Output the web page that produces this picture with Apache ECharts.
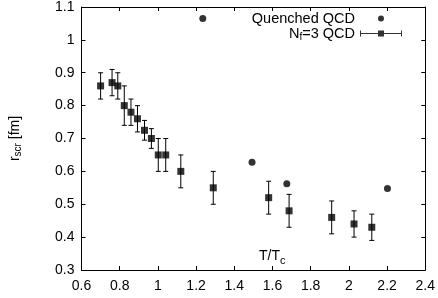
<!DOCTYPE html>
<html><head><meta charset="utf-8">
<script src="https://cdn.jsdelivr.net/npm/echarts@6/dist/echarts.min.js"></script>
<style>html,body{margin:0;padding:0;background:#fff}#c{width:438px;height:298px}</style>
</head><body><div id="c"></div>
<script>
const nfT = [0.70,0.76,0.79,0.824,0.859,0.893,0.93,0.966,1.002,1.041,1.12,1.29,1.58,1.687,1.91,2.027,2.12];
const nfR = [0.86,0.87,0.86,0.80,0.78,0.76,0.725,0.70,0.65,0.65,0.60,0.55,0.52,0.48,0.46,0.44,0.43];
const nfErr = [0.04,0.04,0.04,0.06,0.04,0.04,0.03,0.03,0.05,0.05,0.05,0.05,0.05,0.05,0.05,0.04,0.04];
const qT = [1.235,1.493,1.675,2.202];
const qR = [1.065,0.628,0.562,0.548];
const xTicks = ['0.6','0.8','1','1.2','1.4','1.6','1.8','2','2.2','2.4'];
const yTicks = ['0.3','0.4','0.5','0.6','0.7','0.8','0.9','1','1.1'];

const FONT = 'Liberation Sans';
const chart = echarts.init(document.getElementById('c'));
const nfData = nfT.map((t,i)=>[t,nfR[i]]);
const errData = nfT.map((t,i)=>[t,nfR[i]-nfErr[i],nfR[i]+nfErr[i]]);
const qData = qT.map((t,i)=>[t,qR[i]]);
const axisCommon = {
  axisLine:{show:true,onZero:false,lineStyle:{color:'#000',width:1}},
  axisTick:{show:true,inside:true,length:4,lineStyle:{color:'#000',width:1}},
  splitLine:{show:false}
};
const errPath = 'path://M0,0L1,0L1,2.5L18,2.5L18,0L24,0L24,2.5L41,2.5L41,0L42,0L42,6L41,6L41,3.5L24,3.5L24,6L18,6L18,3.5L1,3.5L1,6L0,6Z';
chart.setOption({
  animation:false,
  textStyle:{fontFamily:FONT},
  grid:{left:79,right:12,top:5,bottom:28},
  title:{text:'{a|T/T}{b|c}',left:254,top:242,textStyle:{fontWeight:'normal',rich:{a:{fontFamily:FONT,fontSize:14,color:'#000'},b:{fontFamily:FONT,fontSize:11,color:'#000',padding:[8,0,0,0]}}}},
  legend:{
    orient:'vertical',right:31,top:6,align:'right',itemGap:0,
    itemWidth:42,itemHeight:6,
    textStyle:{fontFamily:FONT,fontSize:14.5,color:'#000',rich:{a:{fontFamily:FONT,fontSize:14.5,color:'#000'},b:{fontFamily:FONT,fontSize:10,color:'#000',padding:[7,0,0,0]}}},
    data:[{name:'Quenched QCD',icon:'circle'},{name:'Nf=3 QCD',icon:errPath}],
    formatter:function(n){return n==='Nf=3 QCD'?'{a|N}{b|f}{a|=3 QCD}':'{a|'+n+'}';}
  },
  xAxis:[
    Object.assign({type:'value',min:0.6,max:2.4,interval:0.2,position:'bottom',
      axisLabel:{margin:9,fontFamily:FONT,fontSize:14,color:'#000',formatter:v=>xTicks[Math.round((v-0.6)/0.2)]}},axisCommon),
    Object.assign({type:'value',min:0.6,max:2.4,interval:0.2,position:'top',axisLabel:{show:false}},axisCommon)
  ],
  yAxis:[
    Object.assign({type:'value',min:0.3,max:1.1,interval:0.1,position:'left',
      name:'{a|r}{b|scr}{a| [fm]}',nameLocation:'middle',nameRotate:90,nameGap:58,
      nameTextStyle:{rich:{a:{fontFamily:FONT,fontSize:14,color:'#000'},b:{fontFamily:FONT,fontSize:10,color:'#000',padding:[7,0,0,0]}}},
      axisLabel:{margin:7,fontFamily:FONT,fontSize:14,color:'#000',formatter:v=>yTicks[Math.round((v-0.3)/0.1)]}},axisCommon),
    Object.assign({type:'value',min:0.3,max:1.1,interval:0.1,position:'right',axisLabel:{show:false}},axisCommon)
  ],
  series:[
    {name:'Quenched QCD',type:'scatter',data:qData,symbol:'circle',symbolSize:7,itemStyle:{color:'#000'}},
    {name:'errbars',type:'custom',data:errData,
      renderItem:function(params,api){
        const x=api.value(0), lo=api.coord([x,api.value(1)]), hi=api.coord([x,api.value(2)]);
        const cw=2.5;
        const st={stroke:'#000',lineWidth:1};
        return {type:'group',children:[
          {type:'line',shape:{x1:lo[0],y1:lo[1],x2:hi[0],y2:hi[1]},style:st},
          {type:'line',shape:{x1:lo[0]-cw,y1:lo[1],x2:lo[0]+cw,y2:lo[1]},style:st},
          {type:'line',shape:{x1:hi[0]-cw,y1:hi[1],x2:hi[0]+cw,y2:hi[1]},style:st}
        ]};
      }},
    {name:'Nf=3 QCD',type:'scatter',data:nfData,symbol:'rect',symbolSize:7,itemStyle:{color:'#000'},z:3}
  ]
});
</script></body></html>
